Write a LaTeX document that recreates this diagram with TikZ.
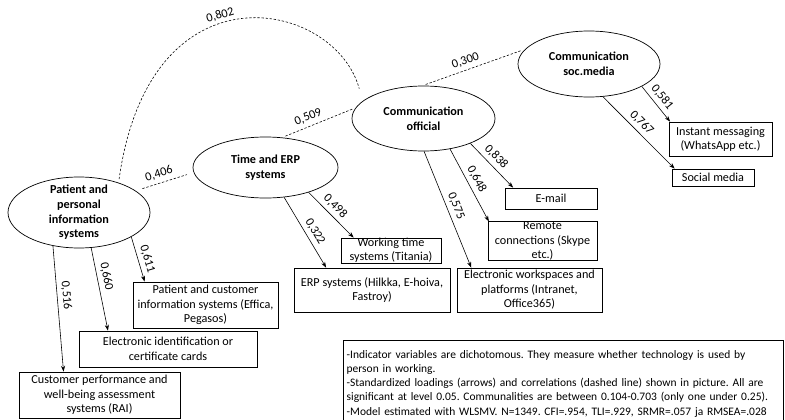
\documentclass[tikz,border=0pt]{standalone}
\usepackage{fontspec}
\setmainfont{Carlito}
\usetikzlibrary{shapes.geometric,arrows.meta}
\frenchspacing

\begin{document}
\begin{tikzpicture}[x=0.03cm,y=-0.03cm,
  latent/.style={ellipse,draw,line width=0.6pt,inner sep=0pt,align=center,
    font=\fontsize{10.4}{12.5}\selectfont\bfseries},
  obs/.style={rectangle,draw,line width=0.6pt,inner sep=0pt,align=center,
    font=\fontsize{10.4}{12.3}\selectfont},
  load/.style={-{Stealth[length=5pt,width=3.5pt]},line width=0.5pt},
  corr/.style={dash pattern=on 2pt off 1.5pt,line width=0.5pt,
    shorten <=3pt,shorten >=3pt},
  lbl/.style={font=\fontsize{10.5}{12}\selectfont,sloped,above}]
  \useasboundingbox (0,0) rectangle (785,419);
  % factors
  \node[latent,minimum width=4.26cm,minimum height=2.13cm,inner ysep=-2.8pt] (pat) at (79,212.5) {Patient and\\personal\\information\\systems};
  \node[latent,minimum width=4.35cm,minimum height=1.83cm] (time) at (265.5,167.5) {Time and ERP\\systems};
  \node[latent,minimum width=4.29cm,minimum height=1.95cm] (off) at (423.5,118.5) {Communication\\official};
  \node[latent,minimum width=4.26cm,minimum height=1.98cm] (soc) at (589,64) {Communication\\soc.media};
  % indicators
  \node[obs,minimum width=4.35cm,minimum height=1.38cm] (effica) at (205.5,305) {Patient and customer\\information systems (Effica,\\Pegasos)};
  \node[obs,minimum width=5.34cm,minimum height=1.08cm] (elcard) at (168,349) {Electronic identification or\\certificate cards};
  \node[obs,minimum width=4.83cm,minimum height=1.38cm] (rai) at (99.5,395) {Customer performance and\\well-being assessment\\systems (RAI)};
  \node[obs,minimum width=3.0cm,minimum height=0.75cm] (worktime) at (391,250.5) {Working time\\systems (Titania)};
  \node[obs,minimum width=4.68cm,minimum height=1.32cm] (erp) at (372,290) {ERP systems (Hilkka, E-hoiva,\\Fastroy)};
  \node[obs,minimum width=4.35cm,minimum height=1.32cm] (work) at (529.5,290) {Electronic workspaces and\\platforms (Intranet,\\Office365)};
  \node[obs,minimum width=3.27cm,minimum height=1.14cm] (remote) at (542.5,241) {Remote\\connections (Skype\\etc.)};
  \node[obs,minimum width=2.76cm,minimum height=0.63cm] (email) at (551,198.5) {E-mail};
  \node[obs,minimum width=3.09cm,minimum height=1.02cm] (instant) at (720.5,139) {Instant messaging\\(WhatsApp etc.)};
  \node[obs,minimum width=2.46cm,minimum height=0.51cm] (social) at (713,177.5) {Social media};
  % note
  \node[obs,anchor=north west,align=left,text width=13cm,inner xsep=0.1cm,minimum height=2.6cm,
    font=\fontsize{9.8}{12.2}\selectfont] (note) at (343,340) {-Indicator variables are dichotomous. They measure whether technology is used by\\person in working.\\-Standardized loadings (arrows) and correlations (dashed line) shown in picture. All are\\significant at level 0.05. Communalities are between 0.104-0.703 (only one under 0.25).\\-Model estimated with WLSMV. N=1349. CFI=.954, TLI=.929, SRMR=.057 ja RMSEA=.028};
  % loadings
  \draw[load] (pat.232) -- (rai.147) node[lbl,pos=0.4] {0,516};
  \draw[load] (pat.289) -- (elcard.163) node[lbl,pos=0.37] {0,660};
  \draw[load] (pat.335) -- (effica.159) node[lbl,pos=0.55] {0,611};
  \draw[load] (time.302) -- (erp.154) node[lbl,pos=0.55] {0,322};
  \draw[load] (time.330) -- (worktime.161) node[lbl,pos=0.45] {0,498};
  \draw[load] (off.271) -- (work.159) node[lbl,pos=0.5] {0,575};
  \draw[load] (off.311) -- (remote.160) node[lbl,pos=0.48] {0,648};
  \draw[load] (off.332) -- (email.164) node[lbl,pos=0.45] {0,838};
  \draw[load] (soc.337) -- (instant.161) node[lbl,pos=0.47] {0,581};
  \draw[load] (soc.293) -- (social.167) node[lbl,pos=0.45] {0,767};
  % correlations
  \draw[corr,shorten <=6pt,shorten >=6pt] (pat.21) -- (time.184) node[lbl,pos=0.45] {0,406};
  \draw[corr] (time.61) -- (off.171) node[lbl,pos=0.4] {0,509};
  \draw[corr] (off.92) -- (soc.167) node[lbl,pos=0.45] {0,300};
  \draw[corr,shorten >=11pt] (pat.37) .. controls (150,-40) and (335,0) .. (off.164) node[lbl,pos=0.44] {0,802};
\end{tikzpicture}
\end{document}
